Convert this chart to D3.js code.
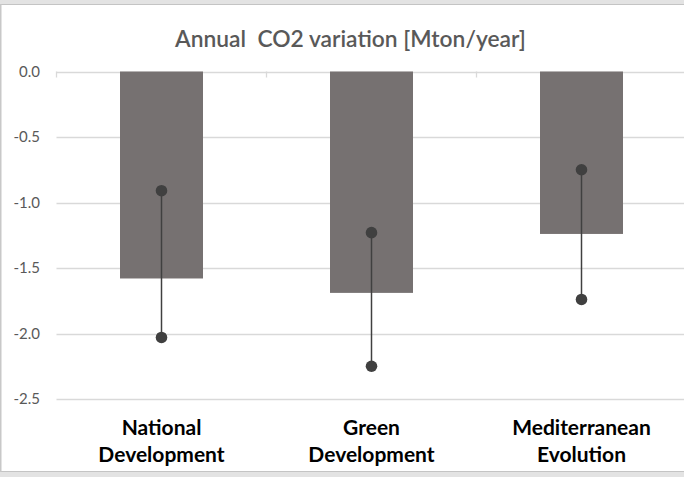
<!DOCTYPE html>
<html><head><meta charset="utf-8">
<script src="https://cdn.jsdelivr.net/npm/d3@7"></script>
<style>body{margin:0;background:#fff;overflow:hidden}svg{display:block}</style>
</head><body>
<script>
const categories = [["National","Development"],["Green","Development"],["Mediterranean","Evolution"]];
const barValues = [-1.58, -1.69, -1.24];
const rangeHigh = [-0.91, -1.23, -0.75];
const rangeLow = [-2.03, -2.25, -1.74];
const yTicks = [0, -0.5, -1.0, -1.5, -2.0, -2.5];
const title = "Annual  CO2 variation [Mton/year]";

const W = 684, H = 477;
const svg = d3.select("body").append("svg").attr("width", W).attr("height", H);
const font = "Lato, 'Liberation Sans', sans-serif";

// frame
svg.append("rect").attr("x",0).attr("y",0).attr("width",W).attr("height",H).attr("fill","#fff");
svg.append("rect").attr("x",0).attr("y",0).attr("width",W).attr("height",4).attr("fill","#e3e3e3");
svg.append("line").attr("x1",0).attr("x2",W).attr("y1",4.5).attr("y2",4.5).attr("stroke","#c4c4c4").attr("stroke-width",1);
svg.append("rect").attr("x",0).attr("y",471).attr("width",W).attr("height",6).attr("fill","#e3e3e3");
svg.append("line").attr("x1",0).attr("x2",W).attr("y1",471.5).attr("y2",471.5).attr("stroke","#c4c4c4").attr("stroke-width",1);
svg.append("line").attr("x1",0.75).attr("x2",0.75).attr("y1",4).attr("y2",472).attr("stroke","#c8c8c8").attr("stroke-width",1.5);

const x = d3.scaleBand().domain(d3.range(categories.length)).range([56.5, 686.5]).paddingInner(0).paddingOuter(0);
const y = d3.scaleLinear().domain([-2.5, 0]).range([399, 71.5]);

// gridlines
svg.append("g").selectAll("line").data(yTicks).join("line")
  .attr("x1",56.5).attr("x2",W).attr("y1",d=>Math.round(y(d))+0.5).attr("y2",d=>Math.round(y(d))+0.5)
  .attr("stroke","#d9d9d9").attr("stroke-width",1.3);

// y labels
svg.append("g").selectAll("text").data(yTicks).join("text")
  .attr("x",40).attr("y",d=>y(d)).attr("dy","0.36em").attr("text-anchor","end")
  .attr("font-family",font).attr("font-size",15).attr("fill","#595959")
  .text(d=>d3.format(".1f")(d).replace("−","-"));

// category ticks at zero line
svg.append("g").selectAll("line").data(d3.range(categories.length)).join("line")
  .attr("x1",d=>x(d)).attr("x2",d=>x(d)).attr("y1",y(0)).attr("y2",y(0)+6)
  .attr("stroke","#d9d9d9").attr("stroke-width",1.3);

// bars
const bw = 83;
svg.append("g").selectAll("rect").data(barValues).join("rect")
  .attr("x",(d,i)=>x(i)+x.bandwidth()/2-bw/2).attr("width",bw)
  .attr("y",y(0)).attr("height",d=>y(d)-y(0)).attr("fill","#767171");

// range lines
const g = svg.append("g");
g.selectAll("line").data(rangeHigh).join("line")
  .attr("x1",(d,i)=>x(i)+x.bandwidth()/2).attr("x2",(d,i)=>x(i)+x.bandwidth()/2)
  .attr("y1",d=>y(d)).attr("y2",(d,i)=>y(rangeLow[i])).attr("stroke","#404040").attr("stroke-width",1.5);
g.selectAll("circle.h").data(rangeHigh).join("circle").attr("class","h")
  .attr("cx",(d,i)=>x(i)+x.bandwidth()/2).attr("cy",d=>y(d)).attr("r",5.8).attr("fill","#404040");
g.selectAll("circle.l").data(rangeLow).join("circle").attr("class","l")
  .attr("cx",(d,i)=>x(i)+x.bandwidth()/2).attr("cy",d=>y(d)).attr("r",5.8).attr("fill","#404040");

// category labels
const cl = svg.append("g").selectAll("text").data(categories).join("text")
  .attr("x",(d,i)=>x(i)+x.bandwidth()/2).attr("y",435).attr("text-anchor","middle")
  .attr("font-family",font).attr("font-size",21).attr("font-weight","bold").attr("fill","#000");
cl.selectAll("tspan").data(d=>d).join("tspan")
  .attr("x",function(){return this.parentNode.getAttribute("x");})
  .attr("dy",(d,i)=>i?26.5:0).text(d=>d);

// title
svg.append("text").attr("x",350.5).attr("y",46.5).attr("text-anchor","middle")
  .attr("font-family",font).attr("font-size",22.8).attr("font-weight",600).attr("fill","#595959").attr("style","white-space:pre")
  .text(title);
</script>
</body></html>
